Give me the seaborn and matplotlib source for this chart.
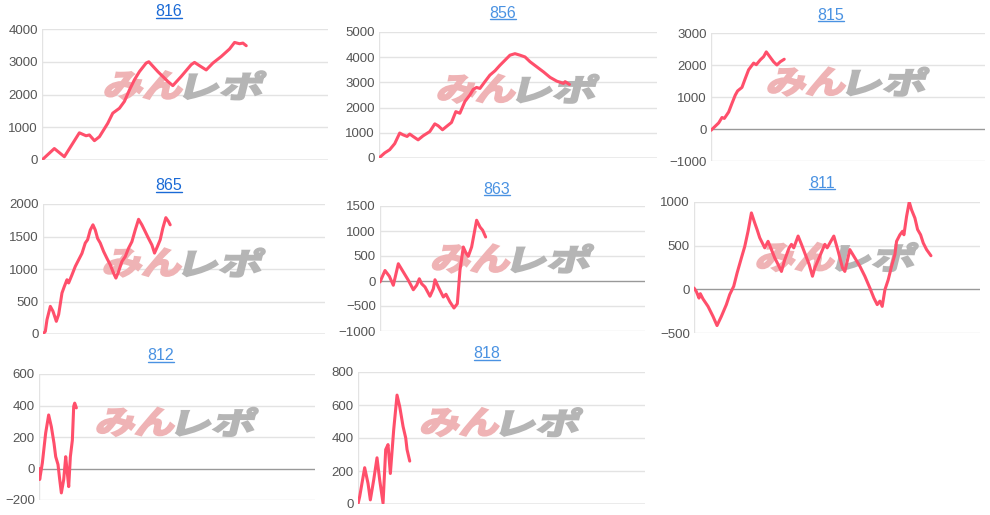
import matplotlib
matplotlib.use("Agg")
import matplotlib.pyplot as plt
import seaborn as sns
import pandas as pd
from matplotlib.textpath import TextPath
from matplotlib.patches import PathPatch
from matplotlib.font_manager import FontProperties
from matplotlib.transforms import Affine2D, IdentityTransform
from matplotlib.lines import Line2D

# game count (x) and balance (y)
g816 = [0, 345, 625, 1045, 1232, 1326, 1466, 1606, 1839, 1979, 2166, 2306, 2446, 2586, 2726, 2913, 2987,
        3239, 3519, 3659, 3893, 4173, 4266, 4406, 4593, 4780, 5013, 5246, 5386, 5526, 5620, 5713]
v816 = [0, 350, 100, 830, 740, 765, 590, 710, 1120, 1430, 1580, 1790, 2140, 2450, 2700, 2960, 3000,
        2700, 2400, 2270, 2550, 2910, 2980, 2880, 2750, 2960, 3160, 3390, 3590, 3550, 3570, 3490]

g856 = [0, 163, 308, 452, 596, 692, 808, 885, 981, 1125, 1269, 1462, 1606, 1702, 1827, 1942, 2086, 2211,
        2327, 2471, 2615, 2711, 2807, 2904, 3048, 3192, 3337, 3481, 3625, 3769, 3913, 4058, 4202, 4346,
        4538, 4731, 4923, 5115, 5308, 5356, 5481]
v856 = [0, 200, 330, 570, 990, 920, 855, 950, 855, 720, 880, 1050, 1355, 1280, 1120, 1250, 1410, 1840,
        1775, 2240, 2500, 2720, 2800, 2760, 3030, 3290, 3460, 3680, 3880, 4080, 4140, 4080, 4010, 3820,
        3620, 3420, 3200, 3050, 2960, 3030, 2920]

g815 = [0, 78, 224, 321, 389, 515, 612, 709, 777, 904, 1001, 1098, 1244, 1322, 1438, 1536, 1614, 1730,
        1827, 1924, 2021, 2138]
v815 = [-40, 40, 190, 360, 330, 530, 800, 1060, 1190, 1300, 1580, 1850, 2060, 2010, 2160, 2260, 2410,
        2240, 2100, 2000, 2100, 2180]

g865 = [0, 66, 113, 208, 283, 378, 444, 538, 604, 680, 727, 822, 916, 1010, 1105, 1199, 1265, 1341,
        1417, 1483, 1549, 1624, 1719, 1813, 1908, 2002, 2068, 2144, 2238, 2333, 2427, 2522, 2616, 2711,
        2805, 2900, 2994, 3089, 3164, 3249, 3325, 3400, 3485, 3561, 3608]
v865 = [0, 40, 220, 425, 350, 195, 300, 630, 730, 835, 785, 910, 1040, 1140, 1240, 1400, 1450, 1600,
        1680, 1600, 1470, 1400, 1270, 1165, 1065, 935, 860, 960, 1115, 1190, 1320, 1420, 1600, 1765,
        1680, 1575, 1470, 1370, 1245, 1350, 1450, 1630, 1790, 1730, 1680]

g863 = [0, 151, 282, 402, 553, 704, 855, 1006, 1107, 1187, 1257, 1358, 1509, 1610, 1660, 1761, 1912,
        1992, 2113, 2233, 2334, 2414, 2515, 2595, 2666, 2766, 2917, 3018, 3099, 3189]
v863 = [-20, 210, 95, -85, 345, 180, 15, -175, -85, 45, -55, -120, -305, -155, 25, -120, -320,
        -265, -420, -540, -455, 215, 680, 560, 495, 680, 1215, 1080, 1015, 880]

g811 = [0, 65, 140, 177, 252, 392, 532, 644, 765, 905, 999, 1111, 1204, 1326, 1419, 1512, 1606, 1699,
        1764, 1839, 1979, 2072, 2166, 2259, 2352, 2446, 2539, 2660, 2726, 2791, 2912, 3006, 3099, 3221,
        3314, 3379, 3519, 3659, 3725, 3800, 3911, 4033, 4154, 4219, 4285, 4359, 4499, 4639, 4779, 4920,
        5032, 5125, 5200, 5265, 5340, 5433, 5526, 5620, 5666, 5760, 5834, 5872, 5946, 6021, 6086, 6180,
        6254, 6338, 6413, 6506, 6628]
v811 = [15, -25, -100, -50, -110, -195, -310, -415, -310, -175, -60, 35, 185, 360, 490, 665, 875, 760,
        685, 590, 475, 550, 455, 360, 285, 205, 340, 475, 515, 475, 610, 515, 415, 285,
        150, 245, 380, 515, 475, 530, 610, 435, 245, 205, 320, 455, 360, 265, 150, 15,
        -100, -175, -135, -195, -5, 110, 265, 400, 550, 625, 665, 625, 835, 1000, 910, 815,
        685, 625, 530, 455, 385]

g812 = [0, 19, 97, 193, 280, 358, 435, 484, 551, 600, 648, 716, 774, 812, 861, 909, 967, 1006, 1035, 1083]
v812 = [0, -70, 35, 225, 340, 265, 160, 75, 25, -70, -155, -70, 75, -10, -115, 75, 180, 395, 415, 385]

g818 = [0, 47, 186, 279, 344, 437, 530, 605, 698, 772, 837, 902, 995, 1088, 1163, 1256, 1330, 1367, 1442]
v818 = [0, 45, 220, 125, 25, 145, 280, 145, 5, 330, 360, 185, 450, 660, 590, 470, 400, 330, 260]

titles = ["816", "856", "815", "865", "863", "811", "812", "818"]
games = [g816, g856, g815, g865, g863, g811, g812, g818]
values = [v816, v856, v815, v865, v863, v811, v812, v818]
yticks = [range(0, 4001, 1000), range(0, 5001, 1000), range(-1000, 3001, 1000),
          range(0, 2001, 500), range(-1000, 1501, 500), range(-500, 1001, 500),
          range(-200, 601, 200), range(0, 801, 200)]

# pixel boxes (left, right, top, bottom) and title centres
boxes = [(42, 328, 29, 160), (379, 657, 32, 158), (711, 985, 33, 161),
         (43, 325, 204, 334), (380, 645, 206, 331), (694, 980, 202, 333),
         (39, 315, 374, 500), (358, 645, 372, 504)]
title_pos = [(169, 12), (503, 13), (831, 15), (169, 186), (497, 189), (822, 183), (161, 356), (487, 354)]
title_col = ["#1a6ad6", "#4a92e2", "#4a92e2", "#1a6ad6", "#4a92e2", "#4a92e2", "#4a92e2", "#4a92e2"]
wm_y = [0.57, 0.55, 0.62, 0.55, 0.58, 0.58, 0.62, 0.62]

sns.set_style("white")
plt.rcParams['font.family'] = ['Liberation Sans', 'DejaVu Sans']

W, H = 990, 515
fig = plt.figure(figsize=(W / 100, H / 100), dpi=100)
fig.patch.set_facecolor("white")

fp = FontProperties(family='Noto Sans CJK JP', weight='bold')


def watermark(ax, box, yfrac):
    l, r, t, b = box
    cx = (l + r) / 2
    cy = H - (t + (1 - yfrac) * (b - t))
    for txt, col, dx in [("みん", "#efb3b5", -40), ("レポ", "#b5b5b5", 40)]:
        tp = TextPath((0, 0), txt, size=1, prop=fp)
        ext = tp.get_extents()
        tr = (Affine2D().translate(-ext.x0 - ext.width / 2, -ext.y0 - ext.height / 2)
              .scale(76 / ext.width, 28 / ext.height).skew_deg(14, 0).translate(cx + dx, cy))
        ax.add_patch(PathPatch(tp, transform=tr, fc=col, ec=col, lw=1.6, zorder=1.5))


texts = []
for i in range(8):
    l, r, t, b = boxes[i]
    ax = fig.add_axes([l / W, 1 - b / H, (r - l) / W, (b - t) / H])
    df = pd.DataFrame({"games": games[i], "balance": values[i]})
    ticks = list(yticks[i])
    for y in ticks:
        ax.axhline(y, color="#999999" if y == 0 else "#e3e3e3", lw=1, zorder=1)
    ax.axvline(0, color="#e3e3e3", lw=1, zorder=1)
    watermark(ax, boxes[i], wm_y[i])
    sns.lineplot(data=df, x="games", y="balance", ax=ax, color="#ff4f6b", lw=2.2, zorder=3)
    ax.set_xlim(0, 8000)
    ax.set_ylim(ticks[0], ticks[-1])
    ax.set_yticks(ticks)
    ax.set_xticks([])
    ax.set_xlabel("")
    ax.set_ylabel("")
    ax.tick_params(axis="y", length=0, pad=3, labelsize=9.5, labelcolor="#555555")
    for s in ax.spines.values():
        s.set_visible(False)
    tx, ty = title_pos[i]
    texts.append(fig.text(tx / W, 1 - ty / H, titles[i], ha="center", va="center",
                          fontsize=11.5, color=title_col[i]))

# underline the titles like links
fig.canvas.draw()
renderer = fig.canvas.get_renderer()
for i, t in enumerate(texts):
    bb = t.get_window_extent(renderer)
    fig.add_artist(Line2D([bb.x0, bb.x1], [bb.y0 + 1.5, bb.y0 + 1.5], transform=IdentityTransform(),
                          color=title_col[i], lw=1))

fig.savefig("out.png", dpi=100)
